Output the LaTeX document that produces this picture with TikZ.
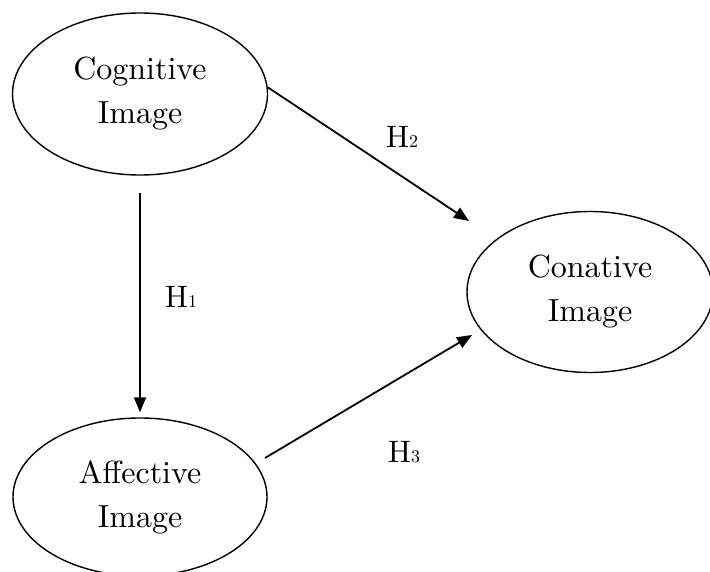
\documentclass[tikz,border=0pt]{standalone}
\usepackage{fontspec}
\setmainfont{lmroman10-regular}[Extension=.otf]
\usetikzlibrary{shapes.geometric,arrows.meta}

\tikzset{
    construct/.style={ellipse, draw, line width=1.4pt, align=center,
        inner sep=0pt, font=\fontsize{32}{44}\selectfont},
    hyp/.style={font=\fontsize{31}{36}\selectfont, inner sep=0pt},
    path/.style={->, line width=1.8pt},
}
\newcommand{\hyplabel}[1]{H{\fontsize{18}{20}\selectfont #1}}

\begin{document}
\begin{tikzpicture}[x=1pt, y=-1pt, >={Triangle[length=15pt, width=12pt]}]
            \useasboundingbox (0, 0) rectangle (710, 572);

            \node[construct, minimum width=255pt, minimum height=162pt] (cog) at (140, 94) {Cognitive\\Image};
            \node[construct, minimum width=246pt, minimum height=161pt] (con) at (590, 292) {Conative\\Image};
            \node[construct, minimum width=254pt, minimum height=158pt] (aff) at (140, 497) {Affective\\Image};

            \coordinate (h2tip) at (469, 221);
            \coordinate (h3tail) at (265, 458);
            \coordinate (h3tip) at (472, 335);

            \draw[path, shorten <=17pt, shorten >=5pt] (cog.south) -- (aff.north);
            \draw[path] (cog.3) -- (h2tip);
            \draw[path] (h3tail) -- (h3tip);

            \node[hyp] (h1) at (181, 297) {\hyplabel{1}};
            \node[hyp] (h2) at (402, 137) {\hyplabel{2}};
            \node[hyp] (h3) at (404, 452) {\hyplabel{3}};
        \end{tikzpicture}
\end{document}
